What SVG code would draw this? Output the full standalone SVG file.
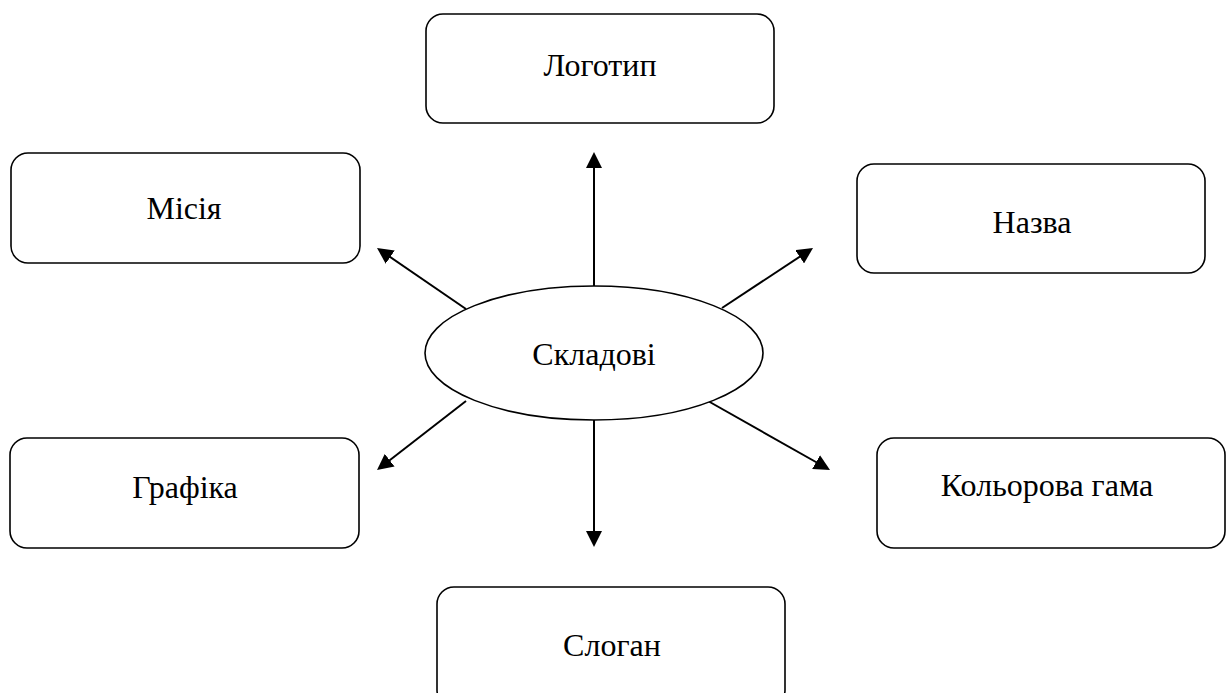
<svg xmlns="http://www.w3.org/2000/svg" width="1226" height="693" viewBox="0 0 1226 693">
<style>
.box{fill:#fff;stroke:#000;stroke-width:1.6}
.lbl{font-family:"Liberation Serif","Times New Roman",serif;font-size:32px;fill:#000;text-anchor:middle}
.con{stroke:#000;stroke-width:2;fill:none;marker-end:url(#ah)}
</style>
<defs>
<marker id="ah" markerUnits="userSpaceOnUse" viewBox="0 0 16 16" markerWidth="16" markerHeight="16" refX="13" refY="8" orient="auto">
<path d="M0,0 L16,8 L0,16 z" fill="#000"/>
</marker>
</defs>
<rect width="1226" height="693" fill="#fff"/>
<g id="connectors">
<line class="con" x1="594" y1="286" x2="594" y2="155"/>
<line class="con" x1="594" y1="420" x2="594" y2="544"/>
<line class="con" x1="466" y1="309" x2="379.5" y2="249.7"/>
<line class="con" x1="722" y1="308" x2="810.5" y2="249.6"/>
<line class="con" x1="466" y1="401" x2="379.4" y2="468.2"/>
<line class="con" x1="708" y1="401" x2="827.4" y2="468.5"/>
</g>
<g id="center">
<ellipse class="box" cx="594" cy="353" rx="169" ry="67"/>
<text class="lbl" x="594" y="365">Складові</text>
</g>
<g id="logo">
<rect class="box" x="426" y="14" width="348" height="109" rx="17"/>
<text class="lbl" x="600" y="76">Логотип</text>
</g>
<g id="mission">
<rect class="box" x="11" y="153" width="349" height="110" rx="17"/>
<text class="lbl" x="184" y="219">Місія</text>
</g>
<g id="name">
<rect class="box" x="857" y="164" width="348" height="109" rx="17"/>
<text class="lbl" x="1032" y="233">Назва</text>
</g>
<g id="graphics">
<rect class="box" x="10" y="438" width="349" height="110" rx="17"/>
<text class="lbl" x="185" y="498">Графіка</text>
</g>
<g id="colors">
<rect class="box" x="877" y="438" width="348" height="110" rx="17"/>
<text class="lbl" x="1047" y="496">Кольорова гама</text>
</g>
<g id="slogan">
<rect class="box" x="437" y="587" width="348" height="120" rx="17"/>
<text class="lbl" x="612" y="656">Слоган</text>
</g>
</svg>
